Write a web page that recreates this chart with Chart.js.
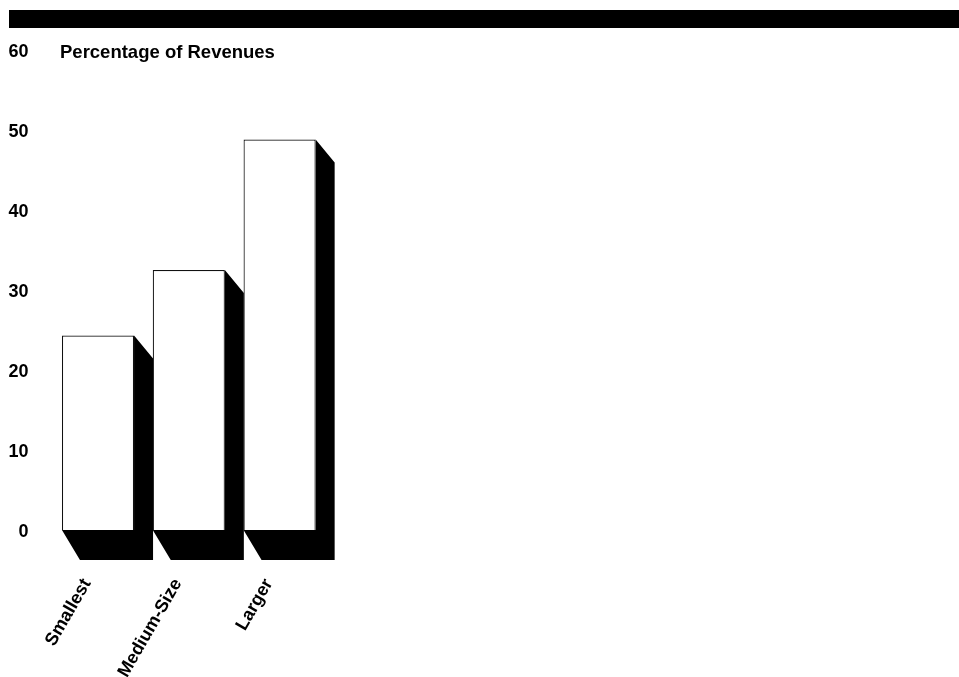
<!DOCTYPE html>
<html lang="en">
<head>
<meta charset="UTF-8">
<title>Percentage of Revenues</title>
<style>
    body { margin: 0; background: #fff; font-family: "Liberation Sans", Arial, sans-serif; }
    .topbar { position: absolute; left: 9px; top: 10px; width: 950px; height: 18px; background: #000; }
    .wrap { position: absolute; left: 0; top: 0; width: 959px; height: 677px; }
</style>
</head>
<body>
<div class="topbar"></div>
<div class="wrap"><canvas id="revChart"></canvas></div>

<script src="https://cdn.jsdelivr.net/npm/chart.js"></script>
<script>
    // chart data
    const categories = ['Smallest', 'Medium-Size', 'Larger'];
    const revenueShare = [24.3, 32.5, 48.8];
    const yTicks = [0, 10, 20, 30, 40, 50, 60];
    const yLabel = 'Percentage of Revenues';

    const FONT = '"Liberation Sans", Arial, sans-serif';

    // black 3D shadow behind each bar
    const shadowPlugin = {
        id: 'shadow',
        beforeDatasetsDraw(chart) {
            const ctx = chart.ctx;
            const meta = chart.getDatasetMeta(0);
            ctx.save();
            ctx.fillStyle = '#000';
            meta.data.forEach(bar => {
                const p = bar.getProps(['x', 'y', 'base', 'width'], true);
                const l = p.x - p.width / 2, r = p.x + p.width / 2;
                ctx.beginPath();
                ctx.moveTo(r, p.y);
                ctx.lineTo(r + 19, p.y + 23);
                ctx.lineTo(r + 19, p.base + 30);
                ctx.lineTo(l + 18, p.base + 30);
                ctx.lineTo(l, p.base);
                ctx.lineTo(r, p.base);
                ctx.closePath();
                ctx.fill();
            });
            ctx.restore();
        }
    };

    // axis caption next to the top tick
    const captionPlugin = {
        id: 'caption',
        afterDraw(chart) {
            const ctx = chart.ctx;
            const y = chart.scales.y.getPixelForValue(yTicks[yTicks.length - 1]);
            ctx.save();
            ctx.font = 'bold 18.5px ' + FONT;
            ctx.fillStyle = '#000';
            ctx.textBaseline = 'middle';
            ctx.fillText(yLabel, 60, y + 2.5);
            ctx.restore();
        }
    };

    new Chart(document.getElementById('revChart'), {
        type: 'bar',
        data: {
            labels: categories,
            datasets: [{
                data: revenueShare,
                backgroundColor: '#fff',
                borderColor: '#111',
                borderWidth: 1.2,
                categoryPercentage: 1,
                barPercentage: 0.794
            }]
        },
        options: {
            responsive: true,
            maintainAspectRatio: false,
            animation: false,
            layout: { padding: { top: 50, right: 634, bottom: 0, left: 0 } },
            plugins: { legend: { display: false }, tooltip: { enabled: false } },
            scales: {
                x: {
                    grid: { display: false, drawTicks: false },
                    border: { display: false },
                    afterFit: s => { s.height = 147; },
                    ticks: {
                        color: '#000',
                        font: { family: FONT, size: 18, weight: 'bold' },
                        minRotation: 60,
                        maxRotation: 60,
                        padding: 45,
                        labelOffset: -11
                    }
                },
                y: {
                    min: 0,
                    max: 60,
                    grid: { display: false, drawTicks: false },
                    border: { display: false },
                    afterFit: s => { s.width = 52.6; },
                    afterBuildTicks: s => { s.ticks = yTicks.map(v => ({ value: v })); },
                    ticks: {
                        color: '#000',
                        font: { family: FONT, size: 18, weight: 'bold' },
                        padding: 24,
                        labelOffset: 2.5
                    }
                }
            }
        },
        plugins: [shadowPlugin, captionPlugin]
    });
</script>
</body>
</html>
